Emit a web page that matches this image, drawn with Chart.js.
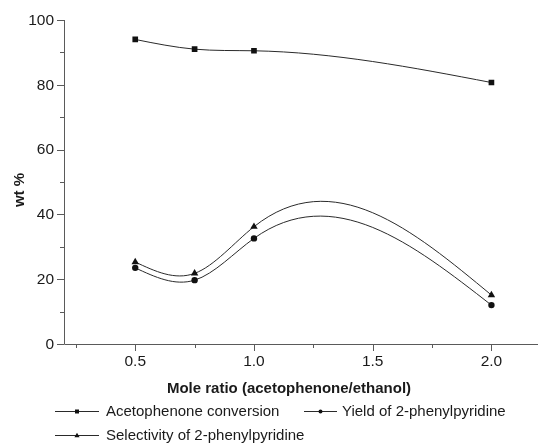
<!DOCTYPE html>
<html>
<head>
<meta charset="utf-8">
<script src="https://cdn.jsdelivr.net/npm/chart.js@4/dist/chart.umd.min.js"></script>
<style>
  html, body { margin: 0; padding: 0; background: #fff; }
  #wrap { width: 538px; height: 443px; position: relative; }
</style>
</head>
<body>
<div id="wrap"><canvas id="chart"></canvas></div>
<script>
// values
const moleRatio = [0.5, 0.75, 1.0, 2.0];
const conversion = [94.0, 91.0, 90.5, 80.7];
const yieldPyr = [23.5, 19.7, 32.6, 12.0];
const selectivity = [25.3, 21.8, 36.2, 15.1];

const seriesNames = ['Acetophenone conversion', 'Yield of 2-phenylpyridine', 'Selectivity of 2-phenylpyridine'];

const xTicks = [0.5, 1.0, 1.5, 2.0];
const xTickLabels = ['0.5', '1.0', '1.5', '2.0'];
const xMinor = [0.25, 0.75, 1.25, 1.75];
const yTicks = [0, 20, 40, 60, 80, 100];
const yMinor = [10, 30, 50, 70, 90];

const xTitle = 'Mole ratio (acetophenone/ethanol)';
const yTitle = 'wt %';

const ink = '#1a1a1a';
const axisCol = '#5a5a5a';
const FONT = '"Liberation Sans", Arial, Helvetica, sans-serif';

function pts(ys) {
  return moleRatio.map(function (x, i) { return { x: x, y: ys[i] }; });
}

// natural cubic spline -> derivative at each knot
function splineSlopes(xs, ys) {
  var n = xs.length;
  var h = [], i;
  for (i = 0; i < n - 1; i++) h.push(xs[i + 1] - xs[i]);
  var M = new Array(n).fill(0);
  if (n > 2) {
    var a = [], b = [], c = [], d = [];
    for (i = 1; i < n - 1; i++) {
      a.push(h[i - 1]);
      b.push(2 * (h[i - 1] + h[i]));
      c.push(h[i]);
      d.push(6 * ((ys[i + 1] - ys[i]) / h[i] - (ys[i] - ys[i - 1]) / h[i - 1]));
    }
    var m = b.length;
    for (i = 1; i < m; i++) {
      var w = a[i] / b[i - 1];
      b[i] -= w * c[i - 1];
      d[i] -= w * d[i - 1];
    }
    var sol = new Array(m);
    sol[m - 1] = d[m - 1] / b[m - 1];
    for (i = m - 2; i >= 0; i--) sol[i] = (d[i] - c[i] * sol[i + 1]) / b[i];
    for (i = 0; i < m; i++) M[i + 1] = sol[i];
  }
  var out = [];
  for (i = 0; i < n - 1; i++) {
    var s = (ys[i + 1] - ys[i]) / h[i];
    out.push({
      d0: s - h[i] * (2 * M[i] + M[i + 1]) / 6,
      d1: s + h[i] * (M[i] + 2 * M[i + 1]) / 6
    });
  }
  return out;
}

const splinePlugin = {
  id: 'splineLines',
  beforeDatasetsDraw: function (chart) {
    var ctx = chart.ctx, xs = chart.scales.x, ys = chart.scales.y;
    ctx.save();
    ctx.strokeStyle = '#2a2a2a';
    ctx.lineWidth = 1;
    chart.data.datasets.forEach(function (ds) {
      var X = ds.data.map(function (p) { return p.x; });
      var Y = ds.data.map(function (p) { return p.y; });
      var sl = splineSlopes(X, Y);
      ctx.beginPath();
      ctx.moveTo(xs.getPixelForValue(X[0]), ys.getPixelForValue(Y[0]));
      for (var i = 0; i < X.length - 1; i++) {
        var h = X[i + 1] - X[i];
        ctx.bezierCurveTo(
          xs.getPixelForValue(X[i] + h / 3), ys.getPixelForValue(Y[i] + sl[i].d0 * h / 3),
          xs.getPixelForValue(X[i + 1] - h / 3), ys.getPixelForValue(Y[i + 1] - sl[i].d1 * h / 3),
          xs.getPixelForValue(X[i + 1]), ys.getPixelForValue(Y[i + 1]));
      }
      ctx.stroke();
    });
    ctx.restore();
  }
};

function drawMarker(ctx, style, x, y, r) {
  ctx.beginPath();
  if (style === 'rect') {
    ctx.rect(x - r, y - r, 2 * r, 2 * r);
  } else if (style === 'circle') {
    ctx.arc(x, y, r, 0, Math.PI * 2);
  } else {
    ctx.moveTo(x, y - r * 1.1);
    ctx.lineTo(x + r, y + r * 0.7);
    ctx.lineTo(x - r, y + r * 0.7);
    ctx.closePath();
  }
  ctx.fill();
}

const axesPlugin = {
  id: 'originAxes',
  afterDraw: function (chart) {
    var ctx = chart.ctx, xs = chart.scales.x, ys = chart.scales.y, area = chart.chartArea;
    ctx.save();
    ctx.strokeStyle = axisCol;
    ctx.lineWidth = 1;
    // axis lines
    ctx.beginPath();
    ctx.moveTo(area.left + 0.5, area.top);
    ctx.lineTo(area.left + 0.5, area.bottom + 0.5);
    ctx.lineTo(chart.width, area.bottom + 0.5);
    ctx.stroke();
    // ticks
    ctx.beginPath();
    yTicks.forEach(function (v) {
      var py = Math.round(ys.getPixelForValue(v)) + 0.5;
      ctx.moveTo(area.left - 7, py); ctx.lineTo(area.left, py);
    });
    yMinor.forEach(function (v) {
      var py = Math.round(ys.getPixelForValue(v)) + 0.5;
      ctx.moveTo(area.left - 4, py); ctx.lineTo(area.left, py);
    });
    xTicks.forEach(function (v) {
      var px = Math.round(xs.getPixelForValue(v)) + 0.5;
      ctx.moveTo(px, area.bottom); ctx.lineTo(px, area.bottom + 7);
    });
    xMinor.forEach(function (v) {
      var px = Math.round(xs.getPixelForValue(v)) + 0.5;
      ctx.moveTo(px, area.bottom); ctx.lineTo(px, area.bottom + 4);
    });
    ctx.stroke();

    // tick labels
    ctx.fillStyle = ink;
    ctx.font = '15.5px ' + FONT;
    ctx.textAlign = 'right';
    ctx.textBaseline = 'middle';
    yTicks.forEach(function (v) {
      ctx.fillText(String(v), area.left - 10, ys.getPixelForValue(v) + 0.5);
    });
    ctx.textAlign = 'center';
    xTicks.forEach(function (v, i) {
      ctx.fillText(xTickLabels[i], xs.getPixelForValue(v), area.bottom + 18);
    });

    // axis titles
    ctx.font = 'bold 15px ' + FONT;
    ctx.fillText(xTitle, area.left + 225, area.bottom + 45);
    ctx.save();
    ctx.translate(20, 190);
    ctx.rotate(-Math.PI / 2);
    ctx.fillText(yTitle, 0, 0);
    ctx.restore();

    // legend
    var items = [
      { x0: 55, x1: 99, tx: 106, y: 411 },
      { x0: 304, x1: 337, tx: 342, y: 411 },
      { x0: 55, x1: 99, tx: 106, y: 435 }
    ];
    ctx.font = '15px ' + FONT;
    ctx.textAlign = 'left';
    chart.data.datasets.forEach(function (ds, i) {
      var it = items[i];
      ctx.strokeStyle = '#2a2a2a';
      ctx.beginPath();
      ctx.moveTo(it.x0, it.y + 0.5);
      ctx.lineTo(it.x1, it.y + 0.5);
      ctx.stroke();
      ctx.fillStyle = '#111';
      drawMarker(ctx, ds.pointStyle, (it.x0 + it.x1) / 2, it.y + 0.5, ds.pointStyle === 'triangle' ? 2.6 : 2);
      ctx.fillStyle = ink;
      ctx.fillText(ds.label, it.tx, it.y + 1);
    });
    ctx.restore();
  }
};

function makeDataset(label, ys, style, radius) {
  return {
    label: label,
    data: pts(ys),
    showLine: false,
    pointStyle: style,
    pointRadius: radius,
    pointHoverRadius: radius,
    pointBackgroundColor: '#111',
    pointBorderColor: '#111',
    pointBorderWidth: 0
  };
}

var ctx = document.getElementById('chart').getContext('2d');
var myChart = new Chart(ctx, {
  type: 'scatter',
  data: {
    datasets: [
      makeDataset(seriesNames[0], conversion, 'rect', 4),
      makeDataset(seriesNames[1], yieldPyr, 'circle', 3.2),
      makeDataset(seriesNames[2], selectivity, 'triangle', 4.3)
    ]
  },
  options: {
    responsive: true,
    maintainAspectRatio: false,
    animation: false,
    layout: { padding: { left: 64, right: 0, top: 20, bottom: 99 } },
    plugins: { legend: { display: false }, tooltip: { enabled: false } },
    scales: {
      x: { type: 'linear', min: 0.2, max: 2.178, display: false },
      y: { type: 'linear', min: 0, max: 100, display: false }
    }
  },
  plugins: [splinePlugin, axesPlugin]
});
</script>
</body>
</html>
